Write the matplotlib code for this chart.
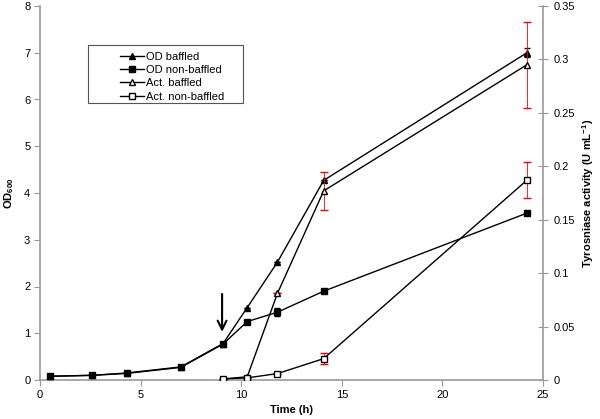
import numpy as np
import matplotlib.pyplot as plt
from matplotlib.patches import Rectangle

plt.rcParams['font.family'] = ['Liberation Sans', 'DejaVu Sans']
plt.rcParams['mathtext.fontset'] = 'custom'
plt.rcParams['mathtext.rm'] = 'Liberation Sans'
plt.rcParams['mathtext.bf'] = 'Liberation Sans:bold'

t = [0.5, 2.6, 4.3, 7.0, 9.1, 10.3, 11.8, 14.1, 24.2]
od_baffled = [0.08, 0.10, 0.15, 0.28, 0.78, 1.55, 2.52, 4.27, 7.0]
od_baffled_err = [0, 0, 0, 0, 0, 0, 0, 0, 0.1]
od_nonbaffled = [0.08, 0.10, 0.14, 0.27, 0.77, 1.25, 1.45, 1.90, 3.57]
od_nonbaffled_err = [0, 0, 0, 0, 0.05, 0, 0.08, 0, 0.05]

t_act = [9.1, 10.3, 11.8, 14.1, 24.2]
act_baffled = [0.001, 0.003, 0.081, 0.177, 0.295]
act_baffled_err = [0, 0, 0, 0.018, 0.04]
act_nonbaffled = [0.001, 0.002, 0.006, 0.020, 0.187]
act_nonbaffled_err = [0, 0, 0, 0.005, 0.017]

grey = '#999999'
fig = plt.figure(figsize=(6, 4.19), dpi=100)
ax = fig.add_axes([40/600, 1-380/419, 503/600, 374/419])
ax2 = ax.twinx()

l1, = ax.plot(t, od_baffled, 'k-^', ms=5, lw=1, label='OD baffled', zorder=3)
ax.errorbar(t, od_baffled, yerr=od_baffled_err, fmt='none', ecolor='k', elinewidth=0.6, capsize=2)
l2, = ax.plot(t, od_nonbaffled, 'k-s', ms=5, lw=1, label='OD non-baffled', zorder=3)
ax.errorbar(t, od_nonbaffled, yerr=od_nonbaffled_err, fmt='none', ecolor='k', elinewidth=0.6, capsize=2)
l3, = ax2.plot(t_act, act_baffled, 'k-^', mfc='white', ms=5, lw=1, label='Act. baffled', zorder=3)
ax2.errorbar(t_act, act_baffled, yerr=act_baffled_err, fmt='none', ecolor='red', elinewidth=0.6, capsize=3)
l4, = ax2.plot(t_act, act_nonbaffled, 'k-s', mfc='white', ms=5, lw=1, label='Act. non-baffled', zorder=3)
ax2.errorbar(t_act, act_nonbaffled, yerr=act_nonbaffled_err, fmt='none', ecolor='red', elinewidth=0.6, capsize=3)

ax.annotate('', xy=(9.05, 0.97), xytext=(9.05, 1.9),
            arrowprops=dict(arrowstyle='->', color='k', lw=1.5, mutation_scale=16))

ax.set_xlim(0, 25)
ax.set_ylim(0, 8)
ax2.set_ylim(0, 0.35)
ax.set_xticks([0, 5, 10, 15, 20, 25])
ax.set_yticks(range(0, 9))
ax2.set_yticks([0, 0.05, 0.1, 0.15, 0.2, 0.25, 0.3, 0.35])
ax2.set_yticklabels(['0', '0.05', '0.1', '0.15', '0.2', '0.25', '0.3', '0.35'])

for a in (ax, ax2):
    a.spines['top'].set_visible(False)
    for s in ('left', 'right', 'bottom'):
        a.spines[s].set_color(grey)
        a.spines[s].set_linewidth(1.2)
    a.tick_params(colors=grey, labelcolor='k', labelsize=8, length=4, pad=3)
ax2.spines['left'].set_visible(False)
ax2.spines['bottom'].set_visible(False)
ax.spines['right'].set_visible(False)
ax2.tick_params(axis='y', direction='inout', length=7, pad=4)

ax.set_xlabel('Time (h)', fontsize=8, fontweight='bold', labelpad=4)
ax.set_ylabel('OD$_{\\mathbf{600}}$', fontsize=8, fontweight='bold', labelpad=6)
ax2.set_ylabel('Tyrosniase activity (U mL$^{\\mathbf{-1}}$)', fontsize=8, fontweight='bold', labelpad=4)

leg = ax.legend(handles=[l1, l2, l3, l4], loc='upper left',
                bbox_to_anchor=(114/600, 1-46/419), bbox_transform=fig.transFigure,
                fontsize=8, frameon=False, handlelength=2.2, borderpad=0,
                handletextpad=0.15, labelspacing=0.3)
fig.add_artist(Rectangle((88/600, 1-103/419), 155/600, 58/419, transform=fig.transFigure,
                         fill=False, edgecolor='#555555', lw=0.8))

fig.savefig('out.png', dpi=100)
